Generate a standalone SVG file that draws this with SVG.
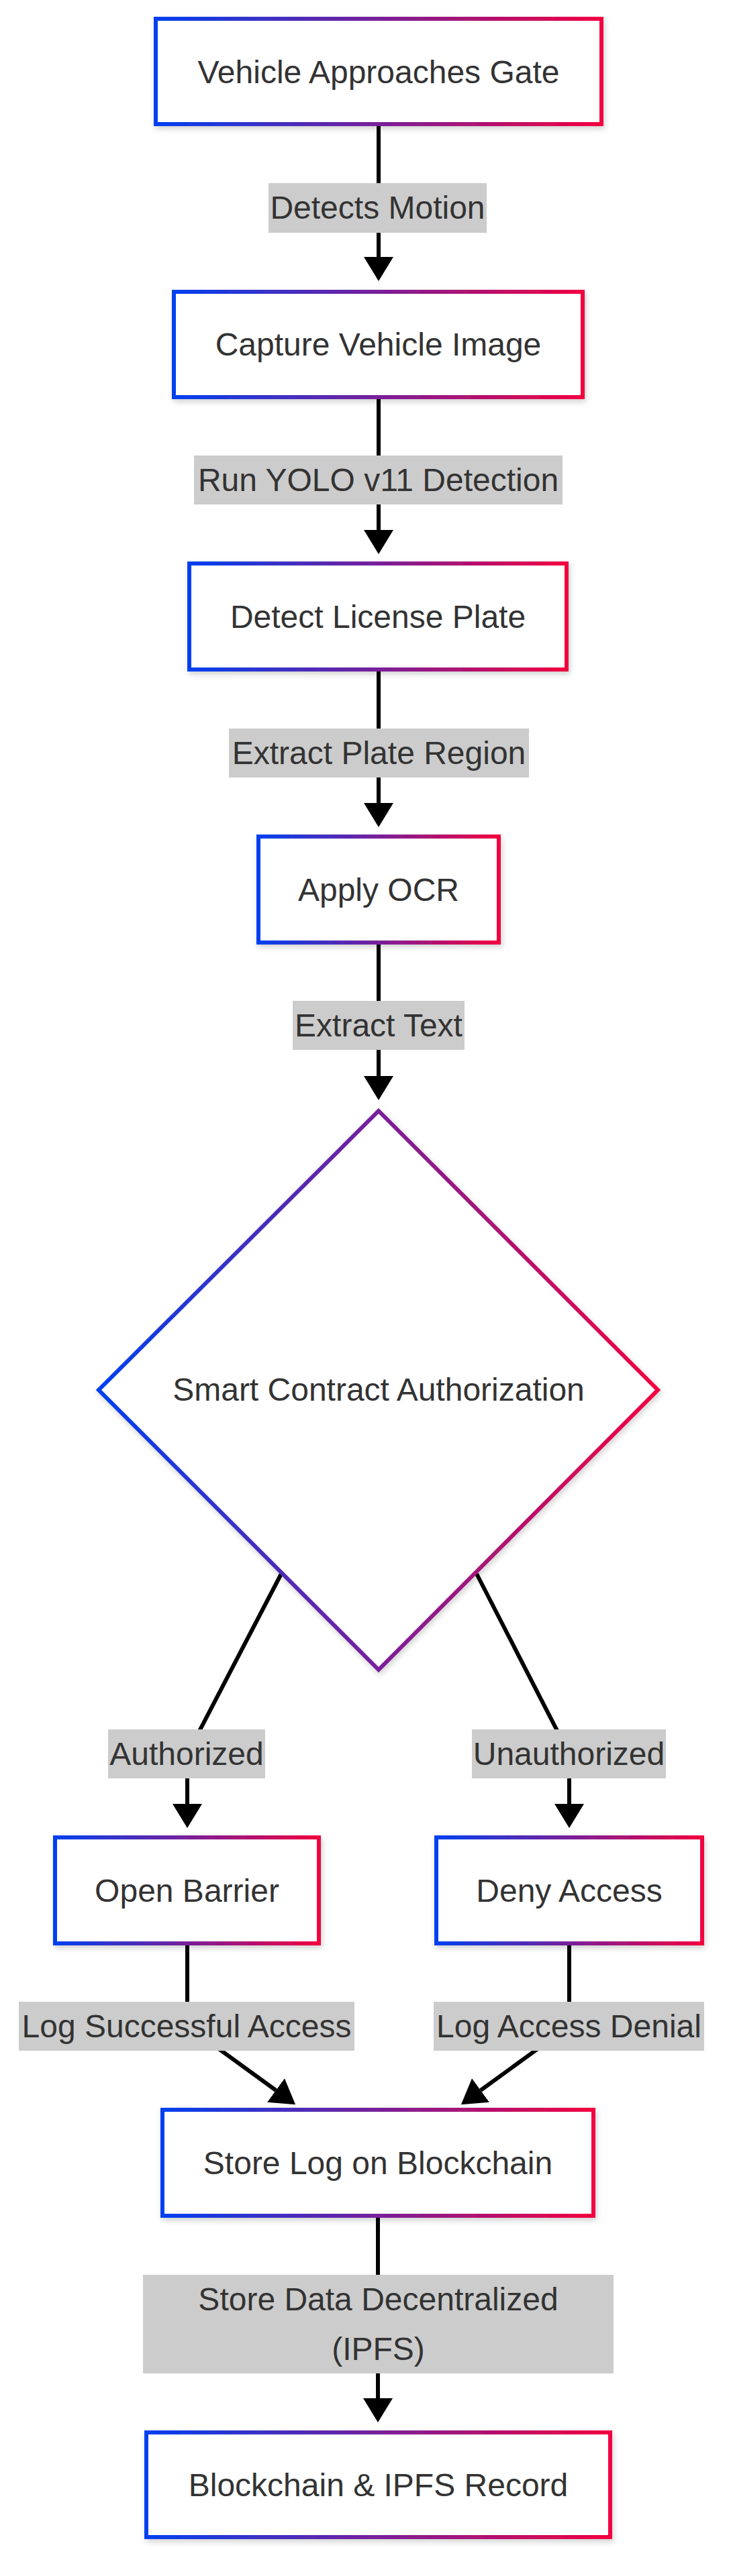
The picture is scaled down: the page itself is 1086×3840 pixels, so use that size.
<svg xmlns="http://www.w3.org/2000/svg" width="1086" height="3840" viewBox="0 0 1086 3840">
<style>
.node rect, .node polygon { fill: #ffffff; stroke: url(#grad); stroke-width: 6; filter: url(#shadow); }
.node text { font-family: "Liberation Sans", Arial, Helvetica, sans-serif; font-size: 48px; fill: #333333; text-anchor: middle; }
.edge { fill: none; stroke: #000000; stroke-width: 6; marker-end: url(#arrow); }
.elabel rect { fill: #cccccc; }
.elabel text { font-family: "Liberation Sans", Arial, Helvetica, sans-serif; font-size: 48px; fill: #333333; text-anchor: middle; }
</style>
<defs>
<linearGradient id="grad" x1="0" y1="0" x2="1" y2="0">
<stop offset="0" stop-color="#0040f0"/>
<stop offset="0.5" stop-color="#78209a"/>
<stop offset="1" stop-color="#f20040"/>
</linearGradient>
<filter id="shadow" x="-10%" y="-10%" width="120%" height="130%">
<feDropShadow dx="2" dy="4" stdDeviation="4" flood-color="#000000" flood-opacity="0.18"/>
</filter>
<marker id="arrow" viewBox="0 0 36 44" refX="0" refY="22" markerWidth="36" markerHeight="44" markerUnits="userSpaceOnUse" orient="auto">
<path d="M0,0 L36,22 L0,44 z" fill="#000000"/>
</marker>
</defs>
<rect width="1086" height="3840" fill="#ffffff"/>

<g id="connectors">
<path class="edge" d="M564,188 L564,383"/>
<path class="edge" d="M564,595 L564,790"/>
<path class="edge" d="M564,1001 L564,1197"/>
<path class="edge" d="M564,1408 L564,1604"/>
<path class="edge" d="M419,2346 L279,2615 L279,2689"/>
<path class="edge" d="M710,2346 L848,2615 L848,2689"/>
<path class="edge" d="M279,2900 L279,3020 L411,3116"/>
<path class="edge" d="M848,2900 L848,3020 L716,3116"/>
<path class="edge" d="M563,3306 L563,3575"/>
</g>

<g id="edge-labels">
<g class="elabel"><rect x="400" y="273" width="325" height="74"/><text x="562.5" y="326">Detects Motion</text></g>
<g class="elabel"><rect x="289" y="679" width="549" height="73"/><text x="563.5" y="731.5">Run YOLO v11 Detection</text></g>
<g class="elabel"><rect x="341" y="1086" width="447" height="73"/><text x="564.5" y="1138.5">Extract Plate Region</text></g>
<g class="elabel"><rect x="436" y="1492" width="256" height="73"/><text x="564" y="1544.5">Extract Text</text></g>
<g class="elabel"><rect x="161" y="2578" width="234" height="73"/><text x="278" y="2630.5">Authorized</text></g>
<g class="elabel"><rect x="703" y="2578" width="289" height="73"/><text x="847.5" y="2630.5">Unauthorized</text></g>
<g class="elabel"><rect x="28" y="2984" width="500" height="73"/><text x="278" y="3036.5">Log Successful Access</text></g>
<g class="elabel"><rect x="646" y="2984" width="403" height="73"/><text x="847.5" y="3036.5">Log Access Denial</text></g>
<g class="elabel"><rect x="213" y="3391" width="701" height="147"/><text x="563.5" y="3443.5">Store Data Decentralized</text><text x="563.5" y="3517.5">(IPFS)</text></g>
</g>

<g id="n1" class="node"><rect x="232" y="28" width="664" height="157"/><text x="564" y="123.5">Vehicle Approaches Gate</text></g>
<g id="n2" class="node"><rect x="259" y="435" width="609" height="157"/><text x="563.5" y="530">Capture Vehicle Image</text></g>
<g id="n3" class="node"><rect x="282" y="840" width="562" height="158"/><text x="563" y="936">Detect License Plate</text></g>
<g id="n4" class="node"><rect x="385" y="1247" width="358" height="158"/><text x="564" y="1343">Apply OCR</text></g>
<g id="n5" class="node"><polygon points="564,1656 980,2072 564,2489 147,2072"/><text x="564" y="2088">Smart Contract Authorization</text></g>
<g id="n6" class="node"><rect x="82" y="2739" width="393" height="158"/><text x="278.5" y="2835">Open Barrier</text></g>
<g id="n7" class="node"><rect x="650" y="2739" width="396" height="158"/><text x="848" y="2835">Deny Access</text></g>
<g id="n8" class="node"><rect x="242" y="3145" width="642" height="158"/><text x="563" y="3241">Store Log on Blockchain</text></g>
<g id="n9" class="node"><rect x="218" y="3626" width="691" height="156"/><text x="563.5" y="3721">Blockchain &amp; IPFS Record</text></g>
</svg>
